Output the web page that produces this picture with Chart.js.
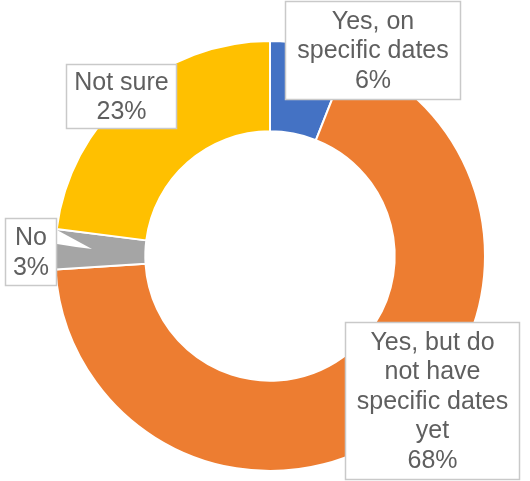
<!DOCTYPE html>
<html><head><meta charset="utf-8">
<script src="https://cdn.jsdelivr.net/npm/chart.js@4/dist/chart.umd.min.js"></script>
<style>html,body{margin:0;padding:0;background:#fff;}#wrap{width:530px;height:481px;position:relative;}</style>
</head><body><div id="wrap"><canvas id="c" width="530" height="481"></canvas></div>
<script>
const categories = [["Yes, on","specific dates"],["Yes, but do","not have","specific dates","yet"],["No"],["Not sure"]];
const values = [6, 68, 3, 23];
const colors = ["#4472C4", "#ED7D31", "#A5A5A5", "#FFC000"];
// label boxes (layout only): x, y, w, h
const boxes = [[285,1,176,99],[345,322,175,158],[5,218,52,68],[66,64,111,65]];

const labelPlugin = {
  id: 'boxLabels',
  afterDatasetsDraw(chart) {
    const ctx = chart.ctx;
    ctx.save();
    // callout pointer for "No"
    ctx.fillStyle = '#ffffff';
    ctx.beginPath();
    ctx.moveTo(57, 230); ctx.lineTo(92, 249); ctx.lineTo(76, 247); ctx.lineTo(57, 244);
    ctx.closePath(); ctx.fill();
    const total = values.reduce((a,b)=>a+b,0);
    values.forEach((v,i)=>{
      const [x,y,w,h] = boxes[i];
      ctx.fillStyle = '#ffffff';
      ctx.fillRect(x,y,w,h);
      ctx.strokeStyle = '#c9c9c9';
      ctx.lineWidth = 1.5;
      ctx.strokeRect(x+0.5,y+0.5,w-1,h-1);
      const lines = categories[i].concat([Math.round(v/total*100)+'%']);
      const lh = 29.5;
      ctx.fillStyle = '#5f5f5f';
      ctx.font = '25px "Liberation Sans", Arial, sans-serif';
      ctx.textAlign = 'center';
      ctx.textBaseline = 'middle';
      const cy = y + h/2 + 1;
      lines.forEach((t,j)=>{
        ctx.fillText(t, x + w/2, cy + (j - (lines.length-1)/2)*lh);
      });
    });
    ctx.restore();
  }
};

new Chart(document.getElementById('c'), {
  type: 'doughnut',
  data: {
    labels: categories.map(c=>c.join(' ')),
    datasets: [{
      data: values,
      backgroundColor: colors,
      borderColor: '#ffffff',
      borderWidth: 2
    }]
  },
  options: {
    responsive: false,
    animation: false,
    cutout: '58%',
    rotation: 0,
    layout: { padding: { left: 54, right: 44, top: 40, bottom: 9 } },
    plugins: { legend: { display: false }, tooltip: { enabled: false } }
  },
  plugins: [labelPlugin]
});
</script>
</body></html>
